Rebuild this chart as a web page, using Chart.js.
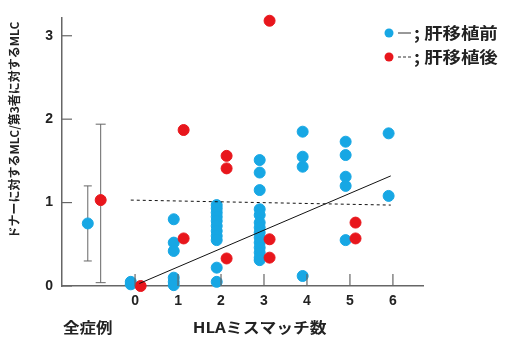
<!DOCTYPE html>
<html>
<head>
<meta charset="utf-8">
<script src="https://cdn.jsdelivr.net/npm/chart.js@4.4.0/dist/chart.umd.min.js"></script>
<style>
  body { margin: 0; background: #fff; }
  #wrap { width: 507px; height: 338px; }
</style>
</head>
<body>
<div id="wrap"><canvas id="myChart" width="507" height="338"></canvas></div>
<script>
const xTicks = [0, 1, 2, 3, 4, 5, 6];
const yTicks = [0, 1, 2, 3];

// values per HLA mismatch count (index = mismatch count)
const preGroups = [
  [0.02, 0.05],
  [0.80, 0.52, 0.42, 0.10, 0.05, 0.01],
  [0.97, 0.93, 0.88, 0.83, 0.78, 0.72, 0.66, 0.60, 0.55, 0.22, 0.05],
  [1.51, 1.36, 1.15, 0.92, 0.85, 0.76, 0.70, 0.64, 0.58, 0.52, 0.46, 0.40, 0.34, 0.31],
  [1.85, 1.55, 1.43, 0.12],
  [1.73, 1.57, 1.31, 1.20, 0.55],
  [1.83, 1.08]
];
const postGroups = [
  [0.0],
  [1.87, 0.57],
  [1.56, 1.41, 0.33],
  [3.18, 0.56, 0.34],
  [],
  [0.76, 0.57],
  []
];

// 全症例 mean and range
const summaryMean = [0.75, 1.03];
const summaryLow = [0.30, 0.04];
const summaryHigh = [1.20, 1.94];

// regression lines
const preFitX = [0.1, 5.95];
const preFitY = [0.03, 1.32];
const postFitX = [-0.1, 5.95];
const postFitY = [1.03, 0.97];

const BLUE = '#17a7e4';
const RED = '#e8161c';
const PRE_SHIFT = -0.1, POST_SHIFT = 0.13;
const SUMMARY_X = [-1.1, -0.8];
const jp = '"Noto Sans CJK JP", "Noto Sans", sans-serif';
const num = '"Liberation Sans", Arial, sans-serif';

function groupPoints(groups, shift) {
  let pts = [];
  groups.forEach((vals, n) => vals.forEach(v => pts.push({ x: n + shift, y: v })));
  return pts;
}

const datasets = [
  { type: 'line', data: preFitX.map((x, i) => ({ x: x, y: preFitY[i] })), borderColor: '#111', borderWidth: 1, pointRadius: 0, order: 0 },
  { type: 'line', data: postFitX.map((x, i) => ({ x: x, y: postFitY[i] })), borderColor: '#111', borderWidth: 1, borderDash: [3, 3], pointRadius: 0, order: 0 },
  { data: groupPoints(postGroups, POST_SHIFT), backgroundColor: RED, borderColor: RED, pointRadius: 5.5, order: 1, clip: false },
  { data: groupPoints(preGroups, PRE_SHIFT), backgroundColor: BLUE, borderColor: BLUE, pointRadius: 5.5, order: 2, clip: false }
];
summaryMean.forEach((m, i) => {
  datasets.push({ type: 'line', data: [{ x: SUMMARY_X[i], y: summaryLow[i] }, { x: SUMMARY_X[i], y: summaryHigh[i] }],
    borderColor: '#666', borderWidth: 1, pointStyle: 'line', pointRadius: i == 0 ? 4 : 5, pointBorderColor: '#666', pointBorderWidth: 1, order: 4 });
  datasets.push({ data: [{ x: SUMMARY_X[i], y: m }], backgroundColor: i == 0 ? BLUE : RED, borderColor: i == 0 ? BLUE : RED, pointRadius: 5.5, order: 3 });
});

// text stretched a little wider, like the reference
function wideText(c, txt, x, y, sx) {
  c.save();
  c.translate(x, y);
  c.scale(sx, 1);
  c.fillText(txt, 0, 0);
  c.restore();
}

const decor = {
  id: 'decor',
  afterDraw(chart) {
    const c = chart.ctx, xs = chart.scales.x, ys = chart.scales.y;
    c.save();
    c.strokeStyle = '#666';
    c.lineWidth = 1.2;
    // inward tick marks
    xTicks.forEach(v => {
      const px = xs.getPixelForValue(v);
      c.beginPath(); c.moveTo(px, ys.bottom); c.lineTo(px, ys.bottom - 12); c.stroke();
    });
    yTicks.forEach(v => {
      const py = ys.getPixelForValue(v);
      c.beginPath(); c.moveTo(xs.left, py); c.lineTo(xs.left + 10, py); c.stroke();
    });
    // bottom labels
    c.fillStyle = '#222';
    c.font = 'bold 15px ' + jp;
    c.textAlign = 'center';
    c.textBaseline = 'middle';
    wideText(c, '全症例', xs.getPixelForValue(-1.1), 327, 1.1);
    wideText(c, 'HLAミスマッチ数', xs.getPixelForValue(2.9), 327, 1.12);
    // y title
    c.save();
    c.translate(14, 130);
    c.rotate(-Math.PI / 2);
    c.font = 'bold 12px ' + jp;
    c.fillText('ドナーに対するMLC/第3者に対するMLC', 0, 0);
    c.restore();
    // legend
    const rows = [['; 肝移植前', BLUE, []], ['; 肝移植後', RED, [3, 2]]];
    rows.forEach((r, i) => {
      const y = 33 + i * 24;
      c.fillStyle = r[1];
      c.beginPath(); c.arc(389, y, 4.5, 0, Math.PI * 2); c.fill();
      c.strokeStyle = '#333'; c.lineWidth = 1; c.setLineDash(r[2]);
      c.beginPath(); c.moveTo(398, y); c.lineTo(411, y); c.stroke();
      c.setLineDash([]);
      c.fillStyle = '#222';
      c.font = 'bold 16px ' + jp;
      c.textAlign = 'left';
      wideText(c, r[0], 414, y, 1.15);
    });
    c.restore();
  }
};

const tickFont = { family: num, size: 14, weight: 'bold' };
new Chart(document.getElementById('myChart').getContext('2d'), {
  type: 'scatter',
  data: { datasets: datasets },
  options: {
    responsive: false,
    animation: false,
    layout: { padding: { top: 9, right: 84, left: 0, bottom: 0 } },
    plugins: { legend: { display: false }, tooltip: { enabled: false } },
    scales: {
      x: {
        type: 'linear', min: -1.7, max: 6.7,
        afterBuildTicks: s => { s.ticks = xTicks.map(v => ({ value: v })); },
        afterFit: s => { s.height = 52; },
        grid: { drawOnChartArea: false, drawTicks: false },
        border: { color: '#666', width: 1.5 },
        ticks: { padding: 7, color: '#222', font: tickFont }
      },
      y: {
        type: 'linear', min: 0, max: 3.22,
        afterBuildTicks: s => { s.ticks = yTicks.map(v => ({ value: v })); },
        afterFit: s => { s.width = 62; },
        grid: { drawOnChartArea: false, drawTicks: false },
        border: { color: '#666', width: 1.5 },
        ticks: { padding: 9, color: '#222', font: tickFont }
      }
    }
  },
  plugins: [decor]
});
</script>
</body>
</html>
